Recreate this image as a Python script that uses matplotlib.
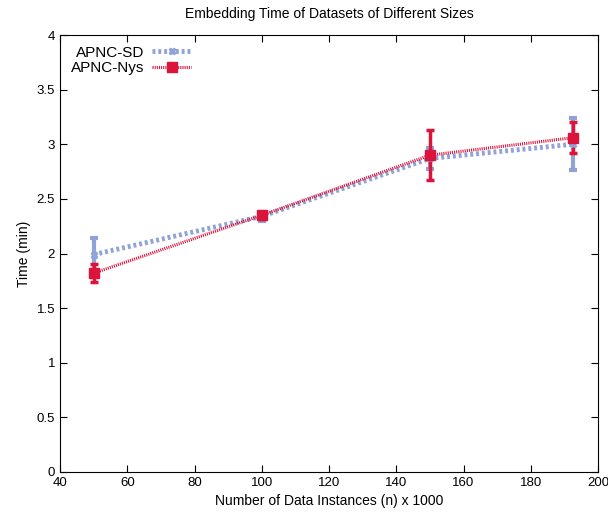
import numpy as np
import matplotlib.pyplot as plt
from matplotlib.lines import Line2D

n_sizes = [50, 100, 150, 192.6]
sd_time = [1.99, 2.34, 2.87, 3.00]
sd_err = [0.15, 0.04, 0.10, 0.24]
nys_time = [1.82, 2.35, 2.90, 3.06]
nys_err = [0.08, 0.03, 0.23, 0.14]

plt.rcParams['font.family'] = ['Liberation Sans', 'DejaVu Sans']

fig = plt.figure(figsize=(6.08, 5.22), dpi=100)
ax = fig.add_axes([60/608, 50/522, 538/608, 437/522])

blue = '#8fa3d6'
red = '#dc143c'

ax.errorbar(n_sizes, sd_time, yerr=sd_err, color=blue, lw=3.5, ls=(0, (0.6, 0.6)),
            marker='X', ms=5, capsize=3, elinewidth=3, capthick=3)
ax.errorbar(n_sizes, nys_time, yerr=nys_err, color=red, lw=2.2, ls=(0, (0.35, 0.35)),
            marker='s', ms=6.5, capsize=3, elinewidth=2.5, capthick=2.5)

ax.set_xlim(40, 200)
ax.set_ylim(0, 4)
ax.set_xticks(np.arange(40, 201, 20))
ax.set_yticks(np.arange(0, 4.01, 0.5))
ax.set_yticklabels(['0', '0.5', '1', '1.5', '2', '2.5', '3', '3.5', '4'])
ax.tick_params(direction='in', top=True, right=True, labelsize=9.5, length=5)
ax.set_xlabel('Number of Data Instances (n) x 1000', fontsize=10)
ax.set_ylabel('Time (min)', fontsize=10)
ax.set_title('Embedding Time of Datasets of Different Sizes', fontsize=10, pad=12)

handles = [
    Line2D([], [], color=blue, lw=3.5, ls=(0, (0.6, 0.6)), marker='X', ms=5),
    Line2D([], [], color=red, lw=2.2, ls=(0, (0.35, 0.35)), marker='s', ms=6.5),
]
leg = ax.legend(handles, ['APNC-SD', 'APNC-Nys'], loc='upper left', frameon=False,
                markerfirst=False, fontsize=11, handlelength=2.6, handletextpad=0.5,
                borderaxespad=0.3, labelspacing=0.1)
for t in leg.get_texts():
    t.set_ha('right')
leg._legend_box.align = 'right'

fig.savefig('out.png', dpi=100)
